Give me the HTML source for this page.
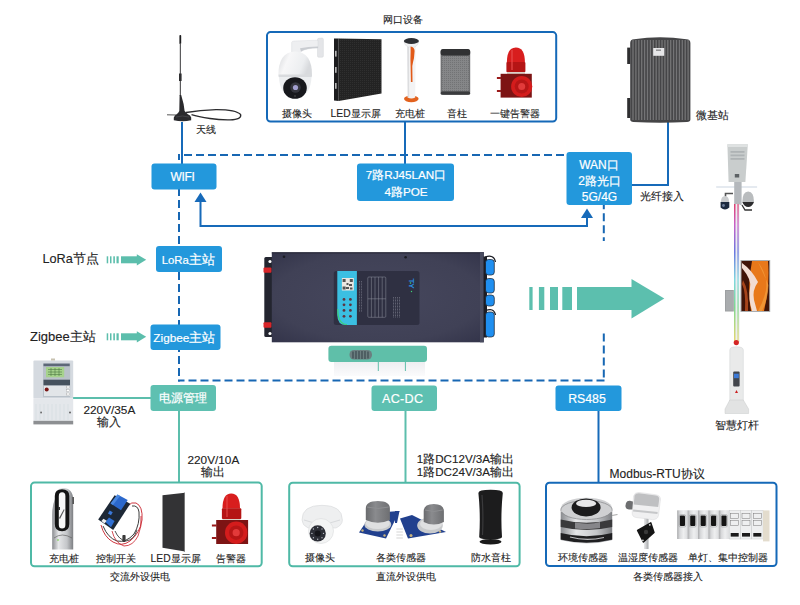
<!DOCTYPE html>
<html><head><meta charset="utf-8">
<style>
html,body{margin:0;padding:0;background:#fff;width:800px;height:605px;overflow:hidden}
svg{display:block;font-family:"Liberation Sans",sans-serif}
.t{font-size:10.3px;fill:#222;stroke:#222;stroke-width:0.1px}
.tm{font-size:12.5px;fill:#222;stroke:#222;stroke-width:0.12px}
.tb{font-size:12px;fill:#fff;stroke:#fff;stroke-width:0.2px}
.c{text-anchor:middle}
</style></head><body>
<svg width="800" height="605" viewBox="0 0 800 605">
<defs>
<pattern id="dots" width="2" height="2" patternUnits="userSpaceOnUse"><rect width="2" height="2" fill="#232323"/><rect width="1" height="1" fill="#2f2f2f"/></pattern>
<pattern id="mesh" width="2" height="2" patternUnits="userSpaceOnUse"><rect width="2" height="2" fill="#858688"/><rect width="1" height="1" fill="#727375"/></pattern>
<radialGradient id="devg" cx="0.5" cy="0.5" r="0.7"><stop offset="0" stop-color="#46475d"/><stop offset="0.7" stop-color="#404156"/><stop offset="1" stop-color="#33344a"/></radialGradient>
<linearGradient id="shad" x1="0" x2="0" y1="0" y2="1"><stop offset="0" stop-color="#eeeef1"/><stop offset="1" stop-color="#fbfbfc"/></linearGradient>
<linearGradient id="domeg" x1="0" x2="1" y1="0" y2="0.3"><stop offset="0" stop-color="#d4d6d9"/><stop offset="0.35" stop-color="#f7f7f8"/><stop offset="0.8" stop-color="#eceef0"/><stop offset="1" stop-color="#d8dadd"/></linearGradient>
<linearGradient id="brk" x1="0" x2="1" y1="0" y2="0"><stop offset="0" stop-color="#a9aaac"/><stop offset="0.25" stop-color="#d8d9db"/><stop offset="0.6" stop-color="#eeeff0"/><stop offset="1" stop-color="#dcdddf"/></linearGradient>
<linearGradient id="capg" x1="0" x2="1" y1="0" y2="0"><stop offset="0" stop-color="#6a6b6e"/><stop offset="0.4" stop-color="#8a8b8e"/><stop offset="1" stop-color="#6e6f72"/></linearGradient>
<linearGradient id="silver" x1="0" x2="1" y1="0" y2="0"><stop offset="0" stop-color="#8a8c90"/><stop offset="0.3" stop-color="#e6e7e9"/><stop offset="0.7" stop-color="#c4c6c9"/><stop offset="1" stop-color="#7d7f83"/></linearGradient>
<linearGradient id="pole" x1="0" x2="0" y1="0" y2="1"><stop offset="0" stop-color="#e04070"/><stop offset="0.15" stop-color="#c860c8"/><stop offset="0.35" stop-color="#6a78e0"/><stop offset="0.55" stop-color="#7fd8e0"/><stop offset="0.75" stop-color="#80d890"/><stop offset="1" stop-color="#e8d870"/></linearGradient>
<linearGradient id="canyon" x1="0" x2="1" y1="0" y2="1"><stop offset="0" stop-color="#5a1e10"/><stop offset="0.35" stop-color="#f0e6e0"/><stop offset="0.5" stop-color="#e07020"/><stop offset="0.75" stop-color="#f09a30"/><stop offset="1" stop-color="#6a2a10"/></linearGradient>
</defs>

<!-- ===== dashed network loop ===== -->
<g stroke="#1767b3" stroke-width="2" fill="none" stroke-dasharray="8 4">
<path d="M179 154 V381.5" stroke-dashoffset="1.9"/>
<path d="M184 155 H566"/>
<path d="M178 380.5 H604.8" stroke-dashoffset="1.5"/>
<path d="M603.8 205 V241" stroke-dashoffset="3.7"/>
<path d="M603.8 333.4 V381"/>
</g>

<!-- ===== solid blue lines ===== -->
<g stroke="#176ab9" stroke-width="2" fill="none">
<path d="M182 122 V164"/>
<path d="M405 121 V164"/>
<path d="M668 121 V185 H632"/>
<path d="M200.5 201 V226 H587 V217"/>
<path d="M598.5 411 V483"/>
</g>
<g fill="#176ab9">
<path d="M194.5 202 L200.5 192.5 L206.5 202 Z"/>
<path d="M581 218 L587 208.5 L593 218 Z"/>
</g>

<!-- ===== teal lines ===== -->
<g stroke="#5cbeac" stroke-width="2" fill="none">
<path d="M73 398 H151"/>
<path d="M179 411 V482"/>
<path d="M405.5 411 V483"/>
</g>

<!-- ===== top box ===== -->
<rect x="267" y="32.1" width="289.2" height="89.4" rx="3.5" fill="none" stroke="#1569b8" stroke-width="2"/>
<text class="t c" x="402.8" y="23.1">网口设备</text>

<!-- ===== blue boxes ===== -->
<g fill="#2398dc">
<rect x="151.5" y="163.5" width="65" height="26" rx="3"/>
<rect x="357" y="163.5" width="97" height="37.5" rx="3"/>
<rect x="566.5" y="152" width="65.5" height="53" rx="3"/>
<rect x="156" y="246" width="66" height="26" rx="3"/>
<rect x="150.5" y="324.5" width="70" height="25.5" rx="3"/>
<rect x="555.5" y="385.5" width="66" height="25.5" rx="3"/>
</g>
<g class="tb">
<text class="c" x="182.5" y="181" style="font-size:12px;letter-spacing:-0.3px">WIFI</text>
<text class="c" x="406" y="178.9" style="font-size:11.7px">7路RJ45LAN口</text>
<text class="c" x="406" y="195.9" style="font-size:11.7px">4路POE</text>
<text class="c" x="599" y="169">WAN口</text>
<text class="c" x="599.5" y="184.8">2路光口</text>
<text class="c" x="599.5" y="200.6">5G/4G</text>
<text class="c" x="188.3" y="264.3"><tspan style="font-size:11.3px">LoRa</tspan><tspan style="font-size:12.6px">主站</tspan></text>
<text class="c" x="184.4" y="341.5"><tspan style="font-size:11.8px">Zigbee</tspan><tspan style="font-size:12.6px">主站</tspan></text>
<text class="c" x="587" y="402.8" style="font-size:12.3px">RS485</text>
</g>

<!-- ===== teal boxes ===== -->
<g fill="#5ec0b1">
<rect x="150.5" y="385" width="65.5" height="26" rx="3"/>
<rect x="371.5" y="385.5" width="65.5" height="25.5" rx="3"/>
</g>
<g class="tb">
<text class="c" x="183.3" y="402.3" style="font-size:11.6px">电源管理</text>
<text class="c" x="402.7" y="402.6" style="font-size:12.6px;letter-spacing:0.3px">AC-DC</text>
</g>

<!-- ===== bottom boxes ===== -->
<rect x="31" y="482.6" width="230.7" height="83.7" rx="3.5" fill="none" stroke="#4fb9a6" stroke-width="2"/>
<rect x="289.2" y="482.7" width="230.4" height="83.6" rx="3.5" fill="none" stroke="#4fb9a6" stroke-width="2"/>
<rect x="546" y="482.8" width="230.5" height="83.2" rx="3.5" fill="none" stroke="#1569b8" stroke-width="2"/>

<!-- ===== labels ===== -->
<g class="t">
<text x="195.5" y="133">天线</text>
<text x="696.2" y="119" style="font-size:10.8px">微基站</text>
<text x="640" y="199.8" style="font-size:10.5px">光纤接入</text>
<text class="c" x="736.7" y="428.7" style="font-size:11px">智慧灯杆</text>
<text class="c" x="296.8" y="116.8">摄像头</text>
<text class="c" x="355.6" y="116.8">LED显示屏</text>
<text class="c" x="409.7" y="116.8">充电桩</text>
<text class="c" x="456.9" y="116.8">音柱</text>
<text class="c" x="515" y="116.8">一键告警器</text>
<text class="c" x="63.6" y="562.3">充电桩</text>
<text class="c" x="116" y="562.3">控制开关</text>
<text class="c" x="175.6" y="562.3">LED显示屏</text>
<text class="c" x="231.3" y="562.3">告警器</text>
<text class="c" x="139.5" y="580.4">交流外设供电</text>
<text class="c" x="320.3" y="560.6">摄像头</text>
<text class="c" x="400.8" y="560.6">各类传感器</text>
<text class="c" x="490.5" y="560.6">防水音柱</text>
<text class="c" x="405.5" y="580">直流外设供电</text>
<text class="c" x="583" y="561">环境传感器</text>
<text class="c" x="647.5" y="561">温湿度传感器</text>
<text class="c" x="728" y="561">单灯、集中控制器</text>
<text class="c" x="668.3" y="579.8">各类传感器接入</text>
</g>
<g class="tm">
<text x="42.5" y="263" style="font-size:12.7px">LoRa节点</text>
<text x="30" y="341" style="font-size:13px">Zigbee主站</text>
<text class="c" x="109.4" y="414" style="font-size:11.8px">220V/35A</text>
<text class="c" x="109.4" y="425.6" style="font-size:11.8px">输入</text>
<text class="c" x="213.4" y="464" style="font-size:11.8px">220V/10A</text>
<text class="c" x="213.4" y="476" style="font-size:11.8px">输出</text>
<text x="416.8" y="462.6" style="font-size:11.6px">1路DC12V/3A输出</text>
<text x="416.8" y="475.5" style="font-size:11.6px">1路DC24V/3A输出</text>
<text x="609.6" y="477.6" style="font-size:12px">Modbus-RTU协议</text>
</g>

<!-- ===== small green arrows ===== -->
<g fill="#5cbeac">
<g transform="translate(0,259.8)">
<rect x="106.7" y="-3.5" width="1.5" height="7"/>
<rect x="110" y="-3.5" width="1.5" height="7"/>
<rect x="113.3" y="-3.5" width="1.6" height="7"/>
<rect x="116.5" y="-3.5" width="2.2" height="7"/>
<rect x="121" y="-3.5" width="16.5" height="7"/>
<path d="M136.8 -5.6 L146.2 0 L136.8 5.6 Z"/>
</g>
<g transform="translate(0,336.8)">
<rect x="106.7" y="-3.5" width="1.5" height="7"/>
<rect x="110" y="-3.5" width="1.5" height="7"/>
<rect x="113.3" y="-3.5" width="1.6" height="7"/>
<rect x="116.5" y="-3.5" width="2.2" height="7"/>
<rect x="121" y="-3.5" width="16.5" height="7"/>
<path d="M136.8 -5.6 L146.2 0 L136.8 5.6 Z"/>
</g>
</g>

<!-- ===== central device ===== -->
<g id="device">
<rect x="334" y="362" width="91" height="14" fill="url(#shad)"/>
<rect x="328.4" y="345.8" width="98.6" height="16.2" rx="3" fill="#5fbfa9"/>
<rect x="349.5" y="350" width="22.5" height="9.5" rx="4.5" fill="#6b7f80"/>
<g stroke="#3d4a50" stroke-width="1.2"><path d="M353 351.5v7M356 351v8M359 351v8M362 351v8M365 351v8M368 351.5v7"/></g>
<g stroke="#5fbfa9" stroke-width="1"><path d="M378.3 362v9M405.4 362v9"/></g>
<rect x="264.3" y="257" width="9" height="80" rx="1.5" fill="#23252f"/>
<circle cx="270" cy="261.5" r="1.6" fill="#fff"/>
<circle cx="270" cy="333.5" r="1.6" fill="#fff"/>
<rect x="263.5" y="267.6" width="8" height="5.2" rx="1" fill="#d8262a"/>
<rect x="263.5" y="322.3" width="8" height="5.5" rx="1" fill="#d8262a"/>
<rect x="271.8" y="252.3" width="212" height="90" fill="url(#devg)"/>
<rect x="271.8" y="252.3" width="212" height="1.2" fill="#2a2b3a"/>
<rect x="480" y="252.3" width="3.8" height="90" fill="#4a4c60"/>
<circle cx="284" cy="256.8" r="1.3" fill="#1a1b22"/>
<circle cx="405.6" cy="257.2" r="1.3" fill="#1a1b22"/>
<rect x="333.8" y="271" width="85.7" height="54" rx="2.5" fill="#2f3042"/>
<path d="M337.3 271 H356.9 V325 H346 Q337.3 325 337.3 315 Z" fill="#3bbfe2"/>
<path d="M337.8 309 Q337.8 324.5 347 324.5" stroke="#3fd07a" stroke-width="1.2" fill="none"/>
<rect x="341.9" y="278" width="11.9" height="12.5" fill="#ebe6e0"/>
<g fill="#555">
<rect x="342.6" y="279" width="3" height="3"/><rect x="349.8" y="279" width="3" height="3"/><rect x="342.6" y="286.5" width="3" height="3"/>
<rect x="346.5" y="283" width="2" height="2"/><rect x="349" y="284" width="3" height="2"/><rect x="346" y="287" width="3" height="2"/><rect x="350" y="287.5" width="2.5" height="2"/>
</g>
<g fill="#5e3440">
<circle cx="344" cy="299.4" r="1.4"/><circle cx="350.4" cy="299.4" r="1.4"/>
<circle cx="344" cy="304.8" r="1.4"/><circle cx="350.4" cy="304.8" r="1.4"/>
<circle cx="344" cy="310.4" r="1.4"/><circle cx="350.4" cy="310.4" r="1.4"/>
<circle cx="344" cy="316.3" r="1.4"/><circle cx="350.4" cy="316.3" r="1.4"/>
</g>
<g stroke="#9a9cab" stroke-width="0.45" fill="none">
<path d="M359.5 281v31M361.5 281v31" stroke-dasharray="1 0.6"/>
<rect x="367.8" y="277" width="18" height="40.3" rx="1"/>
<path d="M371.4 277v40.3M375 277v40.3M378.6 277v40.3M382.2 277v40.3M367.8 298.8h18"/>
<path d="M393.5 297v21M395.5 297v21M397.5 297v21M399.5 297v21" stroke-dasharray="1 0.5"/>
</g>
<g transform="translate(408.5 283.5) rotate(90)"><text x="0" y="0" text-anchor="middle" style="font-size:8px;font-weight:bold;fill:#2a8ee0">TY</text></g>
<circle cx="410.5" cy="283" r="0.8" fill="#3fd07a"/>
<circle cx="411.5" cy="291.5" r="0.7" fill="#3fd07a"/>
<rect x="483.5" y="256.5" width="3.5" height="81" fill="#1c1d24"/>
<path d="M485 257 Q494 254 495.5 262" stroke="#1c1d24" stroke-width="1.2" fill="none"/>
<path d="M485 311 Q494 307 495.5 315" stroke="#1c1d24" stroke-width="1.2" fill="none"/>
<g fill="#1f8ff0" stroke="#1c1d24" stroke-width="0.7">
<rect x="485.5" y="259.5" width="8.8" height="15.5" rx="3"/>
<rect x="485.5" y="278.5" width="8.8" height="14.5" rx="3"/>
<rect x="485.5" y="295" width="8.8" height="11" rx="3"/>
<rect x="485.5" y="312" width="8.8" height="25" rx="3"/>
</g>
</g>

<!-- ===== antenna ===== -->
<g id="antenna">
<path d="M186 112.5 Q200 110 216 109.6 Q236 109.5 240.6 114.5 Q242 119.5 230 119.8 Q220 120 210 118.5 Q198 116.5 191.5 114.6" stroke="#2b2b2e" stroke-width="1.3" fill="none"/>
<path d="M167 114.8 L176 115" stroke="#444" stroke-width="0.9"/>
<rect x="179.4" y="35" width="1.8" height="9" rx="0.8" fill="#1e1e20"/>
<rect x="179.8" y="43" width="1.1" height="31" fill="#4a4a4c"/>
<rect x="179" y="73.5" width="2.6" height="7.5" fill="#2e2e30"/>
<rect x="179.8" y="81" width="1.1" height="15" fill="#4a4a4c"/>
<path d="M179.6 95 L181.2 95 L183.6 104 L184.6 111 Q187 114 190 115.5 Q191.8 117 191.2 120.2 Q182.5 122.5 173.8 120.2 Q173.2 117 175 115.5 Q178.5 113.5 179.3 111 Z" fill="#2a2a2d"/>
<path d="M176 117 Q182.5 115 189 117" stroke="#4a4a4e" stroke-width="0.8" fill="none"/>
</g>

<!-- ===== PTZ camera ===== -->
<g id="ptz">
<path d="M317.5 39.5 Q317.5 38.4 318.8 38.3 L322 38 Q323.4 38 323.4 39.5 L323.4 56 Q323.4 57.3 322 57.3 L318.8 57.3 Q317.5 57.3 317.5 56 Z" fill="#e4e5e8" stroke="#cfd1d5" stroke-width="0.4"/>
<path d="M291.7 42.5 Q292 41 294 41 L318 40.2 L318 48 Q306 48 301 51.5 L299.5 53 L291.7 53 Z" fill="#eeeff1" stroke="#d2d4d8" stroke-width="0.4"/>
<path d="M300 48.2 Q308 46.5 318 46.5 L318 48 Q306 48 301 51.5 Z" fill="#c9ccd1"/>
<path d="M278.4 76 Q278 52 295.2 51.4 Q312.5 52 312 76 Z" fill="url(#domeg)"/>
<rect x="278.6" y="74.5" width="33.2" height="2.6" fill="#d9dbde"/>
<path d="M279 77 Q279.5 96 295.2 98.5 Q311 96 311.5 77 Z" fill="#eceef0"/>
<ellipse cx="295" cy="88" rx="11.8" ry="10.8" fill="#17181c"/>
<circle cx="295.5" cy="87.5" r="5.2" fill="#34353d"/>
<circle cx="295.5" cy="87.5" r="2.6" fill="#a29fd0"/>
<circle cx="295" cy="96" r="0.8" fill="#555"/>
</g>

<!-- ===== LED panel top ===== -->
<g id="ledtop">
<path d="M334 38.6 L338.7 38.6 L338.7 101.1 L334 100.5 Z" fill="#1c1c1e"/>
<path d="M338.7 38.6 L381.5 39.2 L381.5 93.6 L338.7 101.1 Z" fill="url(#dots)"/>
<rect x="335.2" y="50.8" width="1.3" height="5.8" fill="#ddd"/>
<rect x="335.2" y="67" width="1.3" height="5.8" fill="#ddd"/>
<rect x="335.2" y="83" width="1.3" height="5.8" fill="#ddd"/>
</g>

<!-- ===== charging pile top ===== -->
<g id="pile1">
<ellipse cx="411.3" cy="98.8" rx="7.3" ry="3.4" fill="#e2621e"/>
<path d="M407.2 45 L415.7 45 L415.2 97.5 Q411.3 99.5 407.7 97.5 Z" fill="#f3f3f4"/>
<path d="M407.2 45 L409 45 L409.2 97.5 L407.7 97.5 Z" fill="#dcdddf"/>
<path d="M404 41.5 Q404.5 45.5 408 47 L414.8 47 Q418.3 45.5 418.8 41.5 Z" fill="#f0f0f1" stroke="#d5d6d8" stroke-width="0.4"/>
<ellipse cx="411.4" cy="41" rx="7.5" ry="3" fill="#2e3034"/>
<path d="M410.6 46.5 Q414.5 47 414.6 51 L414 58 Q413 62 412.3 66 L412.5 82 L410.9 82 L410.6 66 Q410.3 58 410.6 52 Z" fill="#e25a18"/>
</g>

<!-- ===== speaker top ===== -->
<g id="spk1">
<rect x="440.6" y="49" width="29.6" height="45.8" rx="3" fill="#6f7072"/>
<rect x="440.6" y="49" width="29.6" height="6.4" rx="2.5" fill="#303133"/>
<rect x="440.6" y="91.5" width="29.6" height="3.3" rx="1.5" fill="#3a3b3d"/>
<rect x="442" y="56" width="26.8" height="35" fill="url(#mesh)"/>
</g>

<!-- ===== alarm top ===== -->
<g id="alarm1">
<path d="M506.9 62.2 Q506.9 47.4 515.9 47.4 Q524.9 47.4 524.9 62.2 Z" fill="#d81e1e"/>
<rect x="506.4" y="62" width="19" height="10.2" rx="1" fill="#b51515"/>
<rect x="511" y="50" width="2" height="20" fill="#e84a4a" opacity="0.6"/>
<rect x="507" y="72.2" width="18" height="2.2" fill="#d9d2c8"/>
<rect x="496.9" y="77" width="4" height="2" fill="#9b1a1a"/>
<rect x="496.9" y="90" width="4" height="2" fill="#9b1a1a"/>
<rect x="500.6" y="73.8" width="31.2" height="23.8" fill="#7d1414"/>
<circle cx="521.7" cy="86.5" r="10.6" fill="#d41c1c"/>
<circle cx="521.7" cy="86.5" r="7" fill="#b71616"/>
<circle cx="521.7" cy="86.5" r="3.5" fill="#e23a3a"/>
</g>

<!-- ===== micro base station ===== -->
<g id="microbs">
<rect x="627.2" y="47.6" width="3.2" height="16.4" fill="#2e2e30"/>
<rect x="627.2" y="98" width="3.2" height="20" fill="#2e2e30"/>
<path d="M630.2 43 Q630.2 39.5 634 39.2 Q660 35.5 686.5 39.2 Q690.4 39.5 690.4 43 L690.4 119.5 Q690.4 121.8 687 122 Q660 123.5 633.5 122 Q630.2 121.8 630.2 119.5 Z" fill="#454547"/>
<g stroke="#747476" stroke-width="1.3"><path d="M633.0 40v80M635.9 40v80M638.8 40v80M641.7 40v80M644.6 40v80M647.5 40v80M650.4 40v80M653.3 40v80M656.2 40v80M659.1 40v80M662.0 40v80M664.9 40v80M667.8 40v80M670.7 40v80M673.6 40v80M676.5 40v80M679.4 40v80M682.3 40v80M685.2 40v80M688.1 40v80"/></g>
<rect x="653.2" y="48" width="11" height="7.8" fill="#e6e6e8"/>
<rect x="656" y="49.5" width="5" height="1.4" fill="#8a8a8c"/>
</g>


<!-- ===== smart street lamp ===== -->
<g id="lamp">
<path d="M716.2 187 H757.1" stroke="#c5d0de" stroke-width="0.9"/>
<rect x="734.2" y="178" width="7.4" height="27" fill="#b4b8bc"/>
<path d="M727.4 144.3 L747.8 144.3 L745.4 182 L728.6 182 Z" fill="#c9cdcd"/>
<path d="M727.4 144.3 L747.8 144.3 L747.6 147 L727.5 147 Z" fill="#dfe2e2"/>
<rect x="730.5" y="151" width="14" height="1.8" fill="#aeb3b5"/>
<rect x="730.5" y="154.5" width="14" height="1.8" fill="#aeb3b5"/>
<rect x="730.5" y="158" width="14" height="1.8" fill="#aeb3b5"/>
<rect x="734.8" y="174" width="4.4" height="3.5" fill="#5d6265"/>
<path d="M733 193.5 L725.5 193.5 L725.5 196.5" stroke="#555" stroke-width="1.6" fill="none"/>
<path d="M721 201.5 Q721 196.2 725 196.2 Q729 196.2 729 201.5 L729.3 202.5 L720.7 202.5 Z" fill="#c9cbcd"/>
<path d="M720.6 202 L729.3 202 L729.3 207.5 Q725 211.5 720.6 207.5 Z" fill="#1c2a40"/>
<circle cx="723.5" cy="205.5" r="1.4" fill="#6c7c98"/>
<path d="M742 205 L745 210 L752 210" stroke="#333" stroke-width="1.3" fill="none"/>
<path d="M742.3 202 Q742.3 191.4 748.2 191.4 Q754 191.4 754 202 Z" fill="#b9bcbe"/>
<path d="M742.3 202 L754 202 Q752 207 748.2 207 Q744.3 207 742.3 202 Z" fill="#2c2c2e"/>
<rect x="734" y="204" width="5.6" height="138" fill="#eceef0"/>
<rect x="734" y="204" width="1.5" height="138" fill="url(#pole)"/>
<rect x="737.3" y="204" width="1.5" height="138" fill="url(#pole)" opacity="0.8"/>
<rect x="725" y="290" width="8.8" height="21.5" fill="#9da0a2"/>
<rect x="726" y="291" width="7" height="19.5" fill="#a9acae"/>
<rect x="740.5" y="260" width="29.7" height="52" fill="#a9adb0"/>
<rect x="741.5" y="261" width="27.7" height="50" fill="#401408"/>
<path d="M752 261 L768 261 Q770 285 764 311 L751 311 Q747 290 752 261 Z" fill="#e8781a"/>
<path d="M758 262 Q768 275 766 290 Q764 300 758 311 L762 311 Q768 300 768.5 285 Z" fill="#f4a040" opacity="0.7"/>
<path d="M742 263 Q752 270 758 282 Q752 290 754 300 L757 311 L752 311 Q748 298 750 288 Q752 280 742 268 Z" fill="#f2dcd2"/>
<path d="M743 280 Q749 290 748 311 L745 311 Q746 292 742 284 Z" fill="#c05020" opacity="0.8"/>
<circle cx="736.3" cy="342.6" r="2.6" fill="#d52626"/>
<path d="M729.8 350 Q729.8 346.8 736.5 346.8 Q743.3 346.8 743.3 350 L743.3 402 L729.8 402 Z" fill="#e9eaea" stroke="#cfd1d2" stroke-width="0.5"/>
<path d="M729.8 400 L743.3 400 L748.6 409 L748.6 413.5 L725 413.5 L725 409 Z" fill="#e2e3e3" stroke="#c8caca" stroke-width="0.5"/>
<rect x="733.2" y="371.6" width="6.4" height="15" rx="1" fill="#42464c"/>
<rect x="734" y="373.7" width="4.8" height="4.5" fill="#3c7ad8"/>
<path d="M735 393 L736.5 390 L738 393 Z" fill="#c22"/>
</g>

<!-- ===== meter ===== -->
<g id="meter">
<rect x="33.4" y="360.4" width="39.8" height="38" rx="1" fill="#d5dae0"/>
<rect x="33.4" y="398.4" width="39.8" height="22.4" fill="#e4e7eb"/>
<rect x="33.4" y="420.8" width="39.8" height="3.6" fill="#8d8f92"/>
<rect x="43" y="363.4" width="27.2" height="33.8" fill="#b9c1c9"/>
<rect x="43.5" y="363.6" width="26.2" height="2.6" fill="#5d6878"/>
<rect x="46" y="367" width="18.2" height="10.3" fill="#a6d28c"/>
<g stroke="#4f7a45" stroke-width="0.6"><path d="M48 369.5h14M48 372h14M48 374.5h14M51 368v8M55 368v8M59 368v8"/></g>
<rect x="43.5" y="379.7" width="26.5" height="5.5" fill="#46525e"/>
<rect x="44" y="386" width="26" height="10" fill="#e2e5e8"/>
<circle cx="46.7" cy="389.4" r="2" fill="#7a1616"/>
<rect x="66.5" y="386" width="3" height="2" fill="#fff" stroke="#888" stroke-width="0.3"/>
<rect x="66.5" y="389.5" width="3" height="2" fill="#fff" stroke="#888" stroke-width="0.3"/>
<rect x="66.5" y="393" width="3" height="2" fill="#fff" stroke="#888" stroke-width="0.3"/>
<circle cx="41" cy="412.5" r="0.9" fill="#555"/>
<circle cx="70" cy="412.5" r="0.9" fill="#555"/>
<rect x="51" y="358.5" width="4" height="2" fill="#c8c2b0"/>
<g stroke="#cfd4da" stroke-width="0.5"><path d="M36 404v16M40 404v16M44 404v16M48 404v16M52 404v16M56 404v16M60 404v16M64 404v16M68 404v16"/></g>
</g>

<!-- ===== bottom-left products ===== -->
<g id="pile2">
<path d="M55 499 Q52.2 505 52.2 515 L52.2 549.6 L73.2 549.6 L73.2 500 Q73 488 62.8 488 Q55 488 55 499 Z" fill="url(#silver)"/>
<path d="M54.8 496 Q54.8 489.2 62 489.2 Q69.3 489.2 69.3 496 L69.3 524 Q69.3 531.3 62 531.3 Q54.8 531.3 54.8 524 Z" fill="#141414"/>
<path d="M58.8 496 Q58.8 492.3 62.1 492.3 Q65.4 492.3 65.4 496 L65.4 525 Q65.4 528.6 62.1 528.6 Q58.8 528.6 58.8 525 Z" fill="#f7f7f7"/>
<rect x="72.6" y="497" width="1.2" height="7" fill="#333"/>
<path d="M59 518 L64 509 L64.5 510 L60 519 Z" fill="#555"/>
<rect x="58" y="507" width="2" height="3" fill="#333"/>
<path d="M54 538 Q62 532 72 538" stroke="#555" stroke-width="0.6" fill="none"/>
<circle cx="58" cy="540" r="0.8" fill="#6c3"/>
</g>
<g id="relay">
<path d="M101 525 Q104 537 113 542 Q122 547 130 541 Q140 533 142 520 Q143 506 136 503 Q131 502 129 505" stroke="#c8202a" stroke-width="0.9" fill="none"/>
<path d="M103 526 Q108 538 117 541 Q126 543 134 534 Q140 524 139 512 Q138 505 132 506" stroke="#262626" stroke-width="0.9" fill="none"/>
<path d="M112 531 Q115 543 124 546 Q133 546 138 536 Q142 527 141 516" stroke="#c8202a" stroke-width="0.8" fill="none"/>
<path d="M115 531 Q119 540 126 541 Q134 540 137 530" stroke="#262626" stroke-width="0.8" fill="none"/>
<path d="M98.2 519.4 L114.6 495.2 L130.3 503.7 L113.2 530 Z" fill="#1d2836"/>
<path d="M110.6 503.5 L117.5 494.5 L127.7 500 L121 510.2 Z" fill="#2b68cc"/>
<path d="M110.6 503.5 L117.5 494.5 L120 496 L113 505 Z" fill="#4a88e0"/>
<path d="M105.4 522 L109 517.5 L114.6 521 L111 527.3 Z" fill="#2f6fd2"/>
<path d="M101.4 521 L103.5 518.8 L106.7 520.8 L104.5 523.4 Z" fill="#eeeeee"/>
<rect x="108.5" y="511" width="3.5" height="3.5" fill="#3a78d8" transform="rotate(30 110 513)"/>
<rect x="122.4" y="535" width="3.2" height="7" rx="0.8" fill="#3a3a3a"/>
</g>
<g id="led2">
<path d="M162.5 495.2 L185 492.7 L185 551.5 L162.5 547.7 Z" fill="#333335"/>
<path d="M184 492.8 L185 492.7 L185 551.5 L184 551.3 Z" fill="#777"/>
</g>
<g id="alarm2">
<path d="M222.5 508.4 Q222.5 493.4 231.2 493.4 Q240 493.4 240 508.4 Z" fill="#d81e1e"/>
<rect x="221.9" y="508.2" width="19.4" height="10.8" rx="1" fill="#b51515"/>
<rect x="226" y="496" width="2" height="21" fill="#e84a4a" opacity="0.5"/>
<rect x="222.5" y="519" width="18" height="1.5" fill="#d9d2c8"/>
<rect x="211.9" y="524.5" width="4.5" height="2" fill="#9b1a1a"/>
<rect x="211.9" y="537" width="4.5" height="2" fill="#9b1a1a"/>
<rect x="216.2" y="520" width="31.9" height="24" fill="#7d1414"/>
<circle cx="236.2" cy="532.7" r="11.2" fill="#d41c1c"/>
<circle cx="236.2" cy="532.7" r="7.2" fill="#b71616"/>
<circle cx="236.2" cy="532.7" r="3.6" fill="#e23a3a"/>
</g>

<!-- ===== bottom-mid products ===== -->
<g id="dome">
<path d="M302 520 Q301.9 505.3 322 505.3 Q342.4 505.3 342.4 520 Q342.4 525 336 528 L308 528 Q302 525 302 520 Z" fill="#eeeff0" stroke="#d0d2d4" stroke-width="0.5"/>
<path d="M304 520 Q322 527 340 520" stroke="#d8dadc" stroke-width="1" fill="none"/>
<circle cx="321" cy="531" r="12.5" fill="#f3f4f4" stroke="#d4d6d8" stroke-width="0.5"/>
<circle cx="317.7" cy="533.4" r="8.1" fill="#2c2e36"/>
<g fill="#b8bcc4"><circle cx="317.7" cy="527.5" r="0.7"/><circle cx="322" cy="529" r="0.7"/><circle cx="323.5" cy="533.4" r="0.7"/><circle cx="322" cy="537.8" r="0.7"/><circle cx="317.7" cy="539.3" r="0.7"/><circle cx="313.4" cy="537.8" r="0.7"/><circle cx="311.9" cy="533.4" r="0.7"/><circle cx="313.4" cy="529" r="0.7"/></g>
<circle cx="317.7" cy="533.4" r="3" fill="#14151a"/>
</g>
<g id="gas">
<path d="M359 532.5 L372 513 L399.5 511 L386 538.5 Z" fill="#21408e"/>
<circle cx="362.5" cy="530.5" r="1.2" fill="#c9b27a"/>
<circle cx="384.5" cy="535.5" r="1.2" fill="#c9b27a"/>
<ellipse cx="377.8" cy="524.5" rx="13.4" ry="7" fill="#c8cacc"/>
<ellipse cx="377.8" cy="523.5" rx="12" ry="5.5" fill="#dfe0e1"/>
<path d="M365.8 509 Q365.5 501 377.8 501 Q390.2 501 389.9 509 L389.9 520 Q377.8 525.5 365.8 520 Z" fill="url(#capg)"/>
<path d="M367 507 Q377.8 510 388.7 507" stroke="#8e8f92" stroke-width="1" fill="none"/>
<path d="M395 511 L399.5 511 L397 523 L395 523 Z" fill="#21408e"/>
<path d="M400 518.5 L412 515 L446 532 L408 538.6 Z" fill="#21408e"/>
<circle cx="411" cy="535.5" r="1.5" fill="#c9b27a"/>
<circle cx="440" cy="531.5" r="1.2" fill="#c9b27a"/>
<g stroke="#d0d0d0" stroke-width="0.9"><path d="M396.4 529h6.5M396.4 532h6.5M396.4 535h6.5M396.4 538h6.5"/></g>
<ellipse cx="430" cy="525.5" rx="12.8" ry="8" fill="#c8cacc"/>
<ellipse cx="431" cy="524" rx="11" ry="6" fill="#dfe0e1"/>
<path d="M423.7 511.5 Q423.5 504 433.8 504 Q444.1 504 443.9 511.5 L443.9 522 Q433.8 527 423.7 522 Z" fill="url(#capg)"/>
<path d="M425 510 Q433.8 513 442.7 510" stroke="#8e8f92" stroke-width="1" fill="none"/>
</g>
<g id="spk2">
<ellipse cx="490.5" cy="541.8" rx="11" ry="2.8" fill="#1a1a1a"/>
<path d="M478.4 493 Q478.4 489.7 490.6 489.7 Q502.8 489.7 502.8 493 Q500.5 515 502 537 Q502 539.3 490.6 539.3 Q479.2 539.3 479.2 537 Q480.7 515 478.4 493 Z" fill="#1c1c1d"/>
<path d="M482 495 Q483.5 515 482.5 535" stroke="#3a3a3c" stroke-width="1.2" fill="none"/>
</g>

<!-- ===== bottom-right products ===== -->
<g id="loadcell">
<path d="M560.7 512 L612.2 512 L612.2 540 Q586.5 547 560.7 540 Z" fill="url(#silver)"/>
<path d="M560.7 519.5 Q586.5 526 612.2 519.5 L612.2 527 Q586.5 533 560.7 527 Z" fill="#3a3a3c"/>
<path d="M575 522.5 Q590 525 600 522 L600 528 Q588 530 575 528.5 Z" fill="#9a9a9d" opacity="0.8"/>
<path d="M560.7 533 Q586.5 539.5 612.2 533 L612.2 539.5 Q586.5 546 560.7 539.5 Z" fill="#1f1f21"/>
<path d="M570 537 Q586 541.5 604 537.5" stroke="#bdbdc0" stroke-width="1.2" fill="none"/>
<ellipse cx="586.5" cy="508.5" rx="25.7" ry="10.8" fill="#cfd0d2"/>
<ellipse cx="586.5" cy="510" rx="25.7" ry="9.5" fill="none" stroke="#8e8f92" stroke-width="0.8"/>
<ellipse cx="586.1" cy="507.4" rx="14.5" ry="9" fill="#1b1b1c"/>
<ellipse cx="586.1" cy="503.4" rx="10" ry="3.6" fill="#e6e6e7"/>
<path d="M612 515.5 L617.5 514.5" stroke="#aaa" stroke-width="1.2"/>
</g>
<g id="humid">
<rect x="644.6" y="518" width="4" height="31" fill="#b4b6b8"/>
<rect x="645.2" y="518" width="1.2" height="31" fill="#dcdddf"/>
<path d="M637.6 530.3 L650.8 522.9 L654 532.4 L643.4 541.9 Z" fill="#151515" stroke="#151515" stroke-width="1.5" stroke-linejoin="round"/>
<circle cx="649.8" cy="524.8" r="0.9" fill="#ddd"/>
<circle cx="642.9" cy="540.3" r="0.9" fill="#ddd"/>
<circle cx="646" cy="532" r="2.2" fill="#3a3a3a"/>
<path d="M626 503 Q627 500.5 630 500.8 L633.5 501.8 L632.8 509.5 L629 509.6 Q625.5 509 625.4 506 Z" fill="#6d6e70"/>
<path d="M633.6 496 Q634.5 492.3 639 492.4 L656 494.8 Q661 495.6 660.4 500 L658.5 515.5 Q657.5 519.8 652.5 519.6 L636 517.5 Q631.8 516.8 632.2 512.5 Z" fill="#f0f0f1" stroke="#cfd0d2" stroke-width="0.4"/>
<path d="M634.5 495.5 Q635.5 493.2 639 493.3 L656 495.6 Q659.5 496.3 659.2 499.5 L658.2 507 L633.8 504.5 Z" fill="#bfc0c2"/>
<path d="M633.2 509.5 L657.7 512 L657.4 514 L633 511.5 Z" fill="#c6c7c9"/>
</g>
<g id="breakers">
<rect x="677.2" y="510.4" width="86" height="28.6" fill="#e9eaeb"/>
<rect x="677.2" y="510.4" width="10.4" height="28.6" fill="url(#brk)"/>
<rect x="679.8" y="515.6" width="5.2" height="10.4" rx="1" fill="#141414"/>
<rect x="679.0" y="514.6" width="6.8" height="12.4" rx="1.5" fill="none" stroke="#9c9da0" stroke-width="0.6"/>
<rect x="687.6" y="510.4" width="10.4" height="28.6" fill="url(#brk)"/>
<rect x="690.2" y="515.6" width="5.2" height="10.4" rx="1" fill="#141414"/>
<rect x="689.4" y="514.6" width="6.8" height="12.4" rx="1.5" fill="none" stroke="#9c9da0" stroke-width="0.6"/>
<rect x="698.0" y="510.4" width="10.4" height="28.6" fill="url(#brk)"/>
<rect x="700.6" y="515.6" width="5.2" height="10.4" rx="1" fill="#141414"/>
<rect x="699.8" y="514.6" width="6.8" height="12.4" rx="1.5" fill="none" stroke="#9c9da0" stroke-width="0.6"/>
<rect x="708.4" y="510.4" width="10.4" height="28.6" fill="url(#brk)"/>
<rect x="711.0" y="515.6" width="5.2" height="10.4" rx="1" fill="#141414"/>
<rect x="710.2" y="514.6" width="6.8" height="12.4" rx="1.5" fill="none" stroke="#9c9da0" stroke-width="0.6"/>
<rect x="718.8" y="510.4" width="10.4" height="28.6" fill="url(#brk)"/>
<rect x="721.4" y="515.6" width="5.2" height="10.4" rx="1" fill="#141414"/>
<rect x="720.6" y="514.6" width="6.8" height="12.4" rx="1.5" fill="none" stroke="#9c9da0" stroke-width="0.6"/>
<rect x="729.2" y="510.4" width="11.3" height="28.6" fill="#eeeff0" stroke="#c4c5c7" stroke-width="0.4"/>
<rect x="730.7" y="513.5" width="8" height="5" fill="none" stroke="#777" stroke-width="0.5"/>
<rect x="730.7" y="520.5" width="8" height="5" fill="none" stroke="#777" stroke-width="0.5"/>
<rect x="730.7" y="533" width="8" height="3.6" fill="#1c1c1c"/>
<rect x="740.5" y="510.4" width="11.3" height="28.6" fill="#eeeff0" stroke="#c4c5c7" stroke-width="0.4"/>
<rect x="742.0" y="513.5" width="8" height="5" fill="none" stroke="#777" stroke-width="0.5"/>
<rect x="742.0" y="520.5" width="8" height="5" fill="none" stroke="#777" stroke-width="0.5"/>
<rect x="742.0" y="533" width="8" height="3.6" fill="#1c1c1c"/>
<rect x="751.8" y="510.4" width="11.3" height="28.6" fill="#eeeff0" stroke="#c4c5c7" stroke-width="0.4"/>
<rect x="753.3" y="513.5" width="8" height="5" fill="none" stroke="#777" stroke-width="0.5"/>
<rect x="753.3" y="520.5" width="8" height="5" fill="none" stroke="#777" stroke-width="0.5"/>
<rect x="753.3" y="533" width="8" height="3.6" fill="#1c1c1c"/>
<rect x="763" y="510.4" width="6.5" height="31" fill="#e3dccd"/>
</g>


<!-- ===== big arrow ===== -->
<g fill="#5cbfae">
<rect x="529.3" y="287" width="3.3" height="23"/>
<rect x="538.9" y="287" width="5.4" height="23"/>
<rect x="550" y="287" width="8" height="23"/>
<rect x="562.3" y="287" width="9.7" height="23"/>
<rect x="577" y="287" width="55" height="23"/>
<path d="M631.5 279 L664.3 298.5 L631.5 318.5 Z"/>
</g>

</svg>
</body></html>
